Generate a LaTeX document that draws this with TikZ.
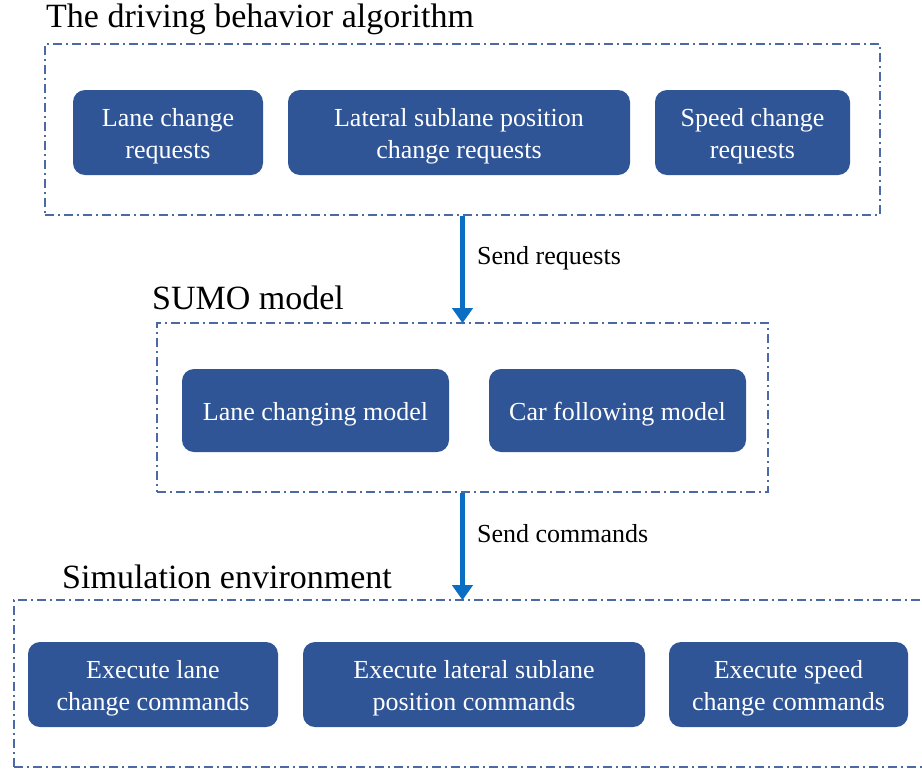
\documentclass[tikz,border=0pt]{standalone}
\usepackage{fontspec}
\setmainfont{Liberation Serif}
\usetikzlibrary{arrows.meta}
\definecolor{boxblue}{HTML}{2F5597}
\definecolor{framecol}{HTML}{4A69A6}
\definecolor{arrowblue}{HTML}{0A6FC2}
\tikzset{
  stagebox/.style={draw=framecol, line width=1.6pt,
    dash pattern=on 9pt off 4pt on 2pt off 4pt, inner sep=0pt},
  blockbox/.style={fill=boxblue, rounded corners=12pt, inner sep=0pt,
    minimum height=85pt},
  blocktext/.style={text=white, align=center, inner sep=0pt, yshift=-4pt,
    font=\fontsize{26}{32}\selectfont},
  heading/.style={anchor=west, inner sep=0pt, font=\fontsize{34}{40}\selectfont},
  flowlabel/.style={anchor=west, inner sep=0pt, font=\fontsize{26}{30}\selectfont},
  flowarrow/.style={draw=arrowblue, line width=4.5pt,
    -{Triangle[width=20pt,length=15pt]}, shorten >=-1pt}
}
\begin{document}
\begin{tikzpicture}[x=1pt,y=-1pt]
\useasboundingbox (0,0) rectangle (922,769);

% top stage: driving behaviour algorithm
\node[heading] (h1) at (46,19) {The driving behavior algorithm};
\node[stagebox, minimum width=835pt, minimum height=171pt] (f1) at (462.5,129.5) {};
\node[blockbox, minimum width=190pt,
  label={[blocktext]center:{Lane change\\requests}}] (a1) at (168,132.5) {};
\node[blockbox, minimum width=342pt,
  label={[blocktext]center:{Lateral sublane position\\change requests}}] (a2) at (459,132.5) {};
\node[blockbox, minimum width=195pt,
  label={[blocktext]center:{Speed change\\requests}}] (a3) at (752.5,132.5) {};

% middle stage: SUMO model
\node[heading] (h2) at (152,298) {SUMO model};
\node[stagebox, minimum width=611pt, minimum height=169pt] (f2) at (462.5,407.5) {};
\node[blockbox, minimum width=267pt, minimum height=83pt,
  label={[blocktext]center:{Lane changing model}}] (b1) at (315.5,410.5) {};
\node[blockbox, minimum width=257pt, minimum height=83pt,
  label={[blocktext]center:{Car following model}}] (b2) at (617.5,410.5) {};

% bottom stage: simulation environment
\node[heading] (h3) at (62,577) {Simulation environment};
\node[stagebox, minimum width=930pt, minimum height=167pt] (f3) at (479,683.5) {};
\node[blockbox, minimum width=250pt,
  label={[blocktext]center:{Execute lane\\change commands}}] (c1) at (153,684.5) {};
\node[blockbox, minimum width=342pt,
  label={[blocktext]center:{Execute lateral sublane\\position commands}}] (c2) at (474,684.5) {};
\node[blockbox, minimum width=239pt,
  label={[blocktext]center:{Execute speed\\change commands}}] (c3) at (788.5,684.5) {};

% flow between stages
\draw[flowarrow] (f1.south) -- (f2.north);
\node[flowlabel] (l1) at (477,258) {Send requests};
\draw[flowarrow] (f2.south) -- (f2.south |- f3.north);
\node[flowlabel] (l2) at (477,534) {Send commands};
\end{tikzpicture}
\end{document}
